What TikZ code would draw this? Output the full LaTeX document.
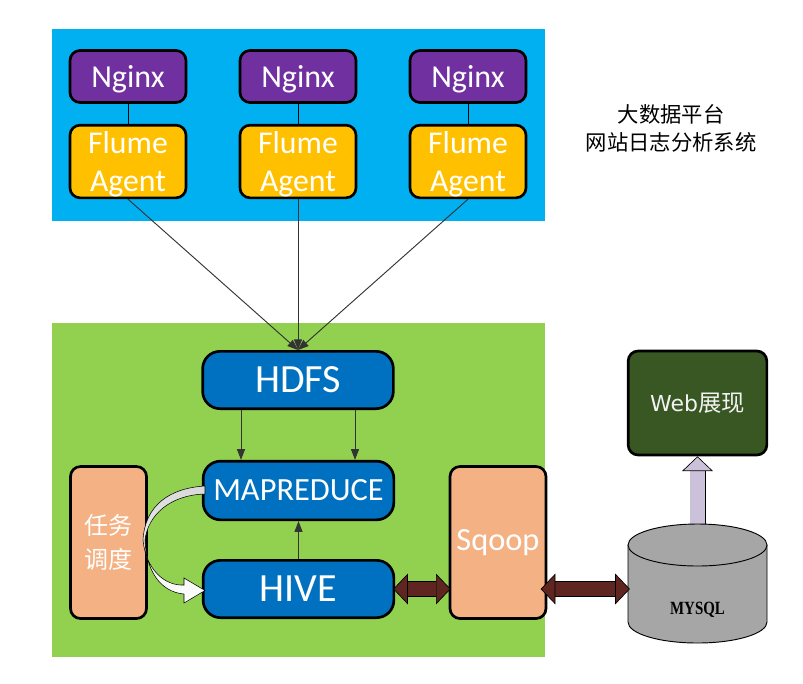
\documentclass[tikz,border=0pt]{standalone}
\usepackage{fontspec}
\setmainfont{Carlito}
\newfontfamily\cjk{Noto Sans CJK SC}
\newfontfamily\webfont{DejaVu Sans}
\newfontfamily\dbfont{Liberation Serif}
\usetikzlibrary{arrows.meta}
\definecolor{skyarea}{HTML}{00B0F0}
\definecolor{greenarea}{HTML}{92D050}
\definecolor{nginxcol}{HTML}{7030A0}
\definecolor{flumecol}{HTML}{FFC000}
\definecolor{jobcol}{HTML}{0070C0}
\definecolor{salmoncol}{HTML}{F4B183}
\definecolor{webcol}{HTML}{385723}
\definecolor{brownarrow}{HTML}{5F2520}
\definecolor{lavarrow}{HTML}{CCC1DA}
\definecolor{dbcol}{HTML}{A6A6A6}
\tikzset{
  box/.style={draw=black,line width=2pt,rounded corners=7.5pt,text=white,align=center,inner sep=0pt},
  nginxbox/.style={box,fill=nginxcol,minimum width=87pt,minimum height=39pt,font=\fontsize{24}{26}\selectfont},
  flumebox/.style={box,fill=flumecol,minimum width=87pt,minimum height=54.5pt,font=\fontsize{23.8}{28.5}\selectfont},
  jobbox/.style={box,fill=jobcol,rounded corners=13pt,minimum width=143pt,minimum height=43pt,font=\fontsize{30}{32}\selectfont},
  sidebox/.style={box,fill=salmoncol,minimum height=114pt},
  thinarrow/.style={draw=black!80,line width=.7pt,-{Triangle[length=8pt,width=6pt]}},
  plainline/.style={draw=black,line width=.7pt},
  brownlink/.style={double=brownarrow,double distance=11pt,line width=.5pt,shorten <=-1.5pt,shorten >=-1.5pt,
    {Triangle[fill=brownarrow,length=11pt,width=23pt,line width=.5pt]}-{Triangle[fill=brownarrow,length=11pt,width=23pt,line width=.5pt]}},
  uplink/.style={double=lavarrow,double distance=11pt,line width=.5pt,
    -{Triangle[fill=lavarrow,length=11pt,width=23pt,line width=.5pt]}},
  dbline/.style={draw=black,line width=.7pt,fill=dbcol},
}
\begin{document}
\begin{tikzpicture}[x=.75pt,y=-.75pt]
  \useasboundingbox (0,0) rectangle (803,683);
  \fill[skyarea] (52,29) rectangle (545,221);
  \fill[greenarea] (52,323) rectangle (545,657);

  \foreach \n/\x in {a/128,b/298,c/468}{
    \node[nginxbox] (nginx\n) at (\x,76.5) {\rule{0pt}{20.5pt}Nginx};
    \node[flumebox] (flume\n) at (\x,161.5) {\rule{0pt}{20pt}Flume\\Agent};
    \draw[plainline] (nginx\n) -- (flume\n);
  }
  \node[align=center,font=\cjk\fontsize{16}{20.5}\selectfont] (title) at (671,128.5) {大数据平台\\网站日志分析系统};

  \node[jobbox] (hdfs) at (298,380) {HDFS};
  \node[jobbox,minimum height=44pt,font=\fontsize{24.3}{26}\selectfont] (mapred) at (298.5,490.5) {MAPREDUCE};
  \node[jobbox] (hive) at (298.5,589) {HIVE};
  \node[sidebox,minimum width=57pt,font=\cjk\fontsize{18}{25}\selectfont] (sched) at (108.5,542.5) {任务\\调度};
  \node[sidebox,minimum width=72pt,font=\fontsize{24.3}{26}\selectfont] (sqoop) at (498,542.5) {Sqoop};
  \node[box,fill=webcol,minimum width=104pt,minimum height=78pt,text=white!95!black,
    font=\webfont\fontsize{16.5}{18}\selectfont] (web) at (697.5,403) {Web{\cjk\fontsize{17.5}{18}\selectfont 展现}};

  \foreach \n in {a,b,c}
    \draw[thinarrow] (flume\n.south) -- (hdfs.north);
  \draw[thinarrow] ([xshift=-42.75pt]hdfs.south) -- ([xshift=-42.75pt]hdfs.south |- mapred.north);
  \draw[thinarrow] ([xshift=42.75pt]hdfs.south) -- ([xshift=42.75pt]hdfs.south |- mapred.north);
  \draw[thinarrow] (hive.north) -- (mapred.south);

  % database drum
  \node[minimum width=104pt,minimum height=89pt,inner sep=0pt] (mysql) at (697.5,583.5) {};
  \draw[uplink] (mysql.north) -- (web.south);
  \draw[dbline] (628,545) -- (628,622) arc[start angle=180,end angle=0,x radius=69.5,y radius=21]
    -- (767,545) -- cycle;
  \draw[dbline] (697.5,545) ellipse[x radius=69.5,y radius=21];
  \node[font=\dbfont\bfseries\fontsize{14}{15}\selectfont,xscale=.8] (dblabel) at (697.5,610) {MYSQL};

  \draw[brownlink] (hive.east) -- (hive.east -| sqoop.west);
  \draw[brownlink,shorten <=-5pt] (hive.east -| sqoop.east) -- (hive.east -| mysql.west);

  % curved task arrow
  \shade[top color=black!15,bottom color=white,draw=black,line width=.4pt]
    (205,486) .. controls (170,488) and (145,505) .. (143,540)
    .. controls (146,570) and (165,586) .. (184,585)
    -- (184,578) -- (205,590.5) -- (184,603) -- (184,594)
    .. controls (160,592) and (146,570) .. (145,540)
    .. controls (148,515) and (170,495) .. (205,494) -- cycle;
\end{tikzpicture}
\end{document}
